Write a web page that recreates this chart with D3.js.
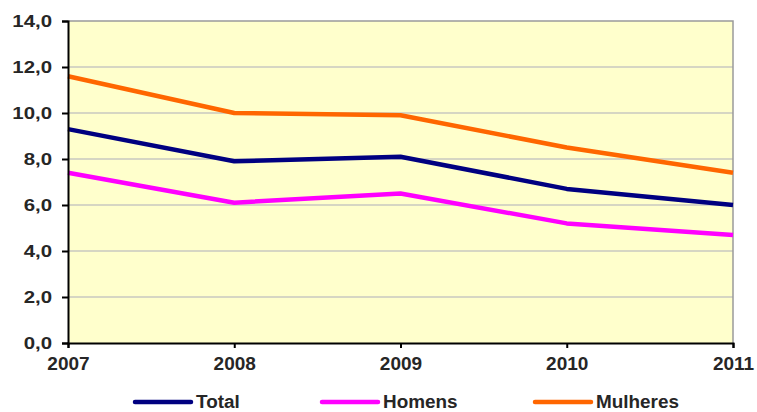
<!DOCTYPE html>
<html>
<head>
<meta charset="utf-8">
<script src="https://cdn.jsdelivr.net/npm/d3@7"></script>
<style>
  html, body { margin: 0; padding: 0; background: #ffffff; }
  svg { display: block; font-family: "Liberation Sans", Arial, sans-serif; }
</style>
</head>
<body>
<svg id="chart" width="757" height="412"></svg>
<script>
// Anos e séries (taxas)
const years = [2007, 2008, 2009, 2010, 2011];
const total = [9.3, 7.9, 8.1, 6.7, 6.0];
const homens = [7.4, 6.1, 6.5, 5.2, 4.7];
const mulheres = [11.6, 10.0, 9.9, 8.5, 7.4];
const yTicks = [0, 2, 4, 6, 8, 10, 12, 14];
const seriesNames = ["Total", "Homens", "Mulheres"];
const seriesColors = ["#000080", "#ff00ff", "#ff6600"];

const series = [
  { name: seriesNames[0], values: total, color: seriesColors[0] },
  { name: seriesNames[1], values: homens, color: seriesColors[1] },
  { name: seriesNames[2], values: mulheres, color: seriesColors[2] }
];

const svg = d3.select("#chart");
const m = { left: 68, right: 733, top: 21, bottom: 343 };
const textColor = "#262626";

const x = d3.scaleLinear().domain([2007, 2011]).range([m.left, m.right]);
const y = d3.scaleLinear().domain([0, 14]).range([m.bottom, m.top]);

const fmt = d => d.toFixed(1).replace(".", ",");

// Widen text horizontally by a factor, keeping its anchor
function stretch(sel, factor) {
  sel.each(function () {
    const w = this.getComputedTextLength();
    if (w > 0) {
      d3.select(this).attr("textLength", w * factor).attr("lengthAdjust", "spacingAndGlyphs");
    }
  });
}

// Plot background
svg.append("rect")
  .attr("x", m.left).attr("y", m.top)
  .attr("width", m.right - m.left).attr("height", m.bottom - m.top)
  .attr("fill", "#ffffcc");

// Horizontal gridlines
svg.append("g").selectAll("line")
  .data(yTicks.filter(t => t > 0 && t < 14))
  .join("line")
  .attr("x1", m.left).attr("x2", m.right)
  .attr("y1", d => y(d)).attr("y2", d => y(d))
  .attr("stroke", "#c8c8c0").attr("stroke-width", 1.5);

// Top and right border
svg.append("path")
  .attr("d", `M${m.left},${m.top}H${m.right}V${m.bottom}`)
  .attr("fill", "none").attr("stroke", "#9a9a9a").attr("stroke-width", 1.5);

// Lines
const line = d3.line()
  .x((d, i) => x(years[i]))
  .y(d => y(d));

svg.append("g").selectAll("path")
  .data(series)
  .join("path")
  .attr("d", d => line(d.values))
  .attr("fill", "none")
  .attr("stroke", d => d.color)
  .attr("stroke-width", 4.5)
  .attr("stroke-linejoin", "round");

// Y axis
const yAxis = svg.append("g")
  .attr("transform", `translate(${m.left},0)`)
  .call(d3.axisLeft(y).tickValues(yTicks).tickFormat(fmt).tickSize(6).tickPadding(10));
yAxis.select(".domain").attr("stroke", "#000").attr("stroke-width", 2);
yAxis.selectAll(".tick line").attr("stroke", "#000").attr("stroke-width", 2);
yAxis.selectAll(".tick text")
  .attr("font-size", 17).attr("font-weight", "bold").attr("fill", textColor)
  .call(stretch, 1.2);

// X axis
const xAxis = svg.append("g")
  .attr("transform", `translate(0,${m.bottom})`)
  .call(d3.axisBottom(x).tickValues(years).tickFormat(d3.format("d")).tickSize(5).tickPadding(9));
xAxis.select(".domain").attr("stroke", "#000").attr("stroke-width", 2);
xAxis.selectAll(".tick line").attr("stroke", "#000").attr("stroke-width", 2);
xAxis.selectAll(".tick text")
  .attr("font-size", 19).attr("font-weight", "bold").attr("fill", textColor);

// Legend
const legendX = [133, 320, 533];
const legend = svg.append("g").selectAll("g")
  .data(series)
  .join("g")
  .attr("transform", (d, i) => `translate(${legendX[i]},402)`);
legend.append("line")
  .attr("x1", 2).attr("x2", 58).attr("y1", 0).attr("y2", 0)
  .attr("stroke", d => d.color).attr("stroke-width", 4.5)
  .attr("stroke-linecap", "round");
legend.append("text")
  .attr("x", 63).attr("y", 0).attr("dy", "0.36em")
  .attr("font-size", 18).attr("font-weight", "bold").attr("fill", textColor)
  .text(d => d.name)
  .call(stretch, 1.05);
</script>
</body>
</html>
